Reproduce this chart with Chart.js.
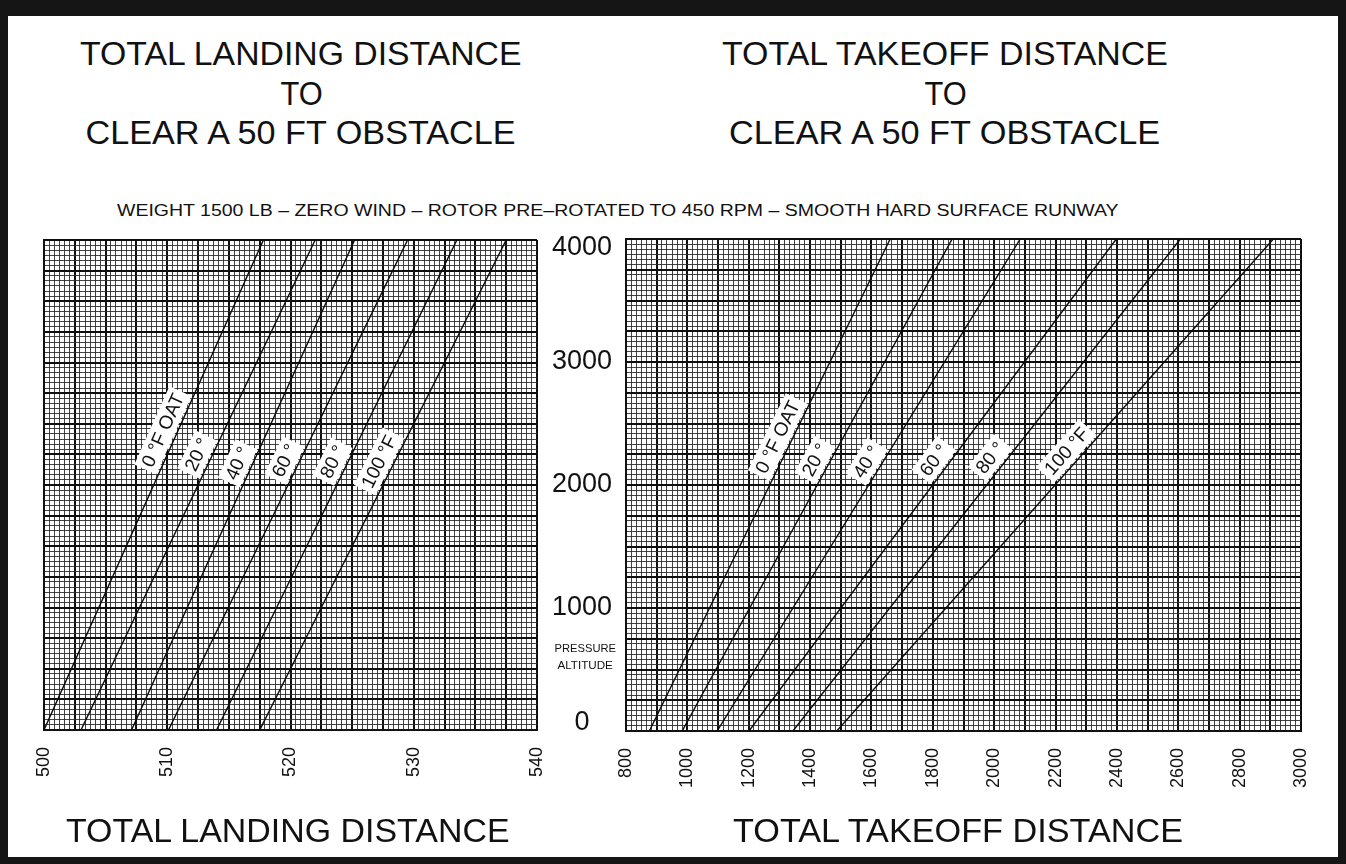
<!DOCTYPE html>
<html>
<head>
<meta charset="utf-8">
<title>Total landing / takeoff distance to clear a 50 ft obstacle</title>
<script src="https://cdn.jsdelivr.net/npm/chart.js@4.4.1/dist/chart.umd.min.js"></script>
<style>
  html, body { margin:0; padding:0; background:#151515; }
  #page { position:relative; width:1346px; height:864px; background:#151515; overflow:hidden;
          font-family:"Liberation Sans", Arial, Helvetica, sans-serif; color:#111; }
  #sheet { position:absolute; left:8px; top:16px; width:1330px; height:841px; background:#fff; }
  .txt { position:absolute; white-space:nowrap; transform-origin:center center; }
  canvas { position:absolute; }
</style>
</head>
<body>
<div id="page">
  <div id="sheet"></div>
  <canvas id="landing" width="530" height="600" style="left:24px;top:230px"></canvas>
  <canvas id="takeoff" width="780" height="600" style="left:540px;top:230px"></canvas>
</div>
<script>
// ---------------- data ----------------
const altitudeFt = [0, 4000];                         // pressure altitude end points of each line
const oatLabels = ['0 °F OAT', '20 °', '40 °', '60 °', '80 °', '100 °F'];
const landingAtSeaLevel = [500.0, 503.0, 507.1, 510.1, 514.0, 517.5];   // ft, at 0 ft altitude
const landingAt4000     = [517.8, 522.0, 525.2, 529.5, 533.5, 537.5];   // ft, at 4000 ft altitude
const takeoffAtSeaLevel = [876, 983, 1097, 1201, 1344, 1487];
const takeoffAt4000     = [1661, 1863, 2085, 2398, 2607, 2910];
const landingTickLabels = [500, 510, 520, 530, 540];
const takeoffTickLabels = [800, 1000, 1200, 1400, 1600, 1800, 2000, 2200, 2400, 2600, 2800, 3000];
const altitudeTickLabels = [0, 1000, 2000, 3000, 4000];

// ---------------- text ----------------
const page = document.getElementById('page');
function placeText(str, cx, cy, size, targetW, weight) {
  const d = document.createElement('div');
  d.className = 'txt';
  d.textContent = str;
  d.style.fontSize = size + 'px';
  d.style.lineHeight = size + 'px';
  if (weight) d.style.fontWeight = weight;
  page.appendChild(d);
  const w = d.offsetWidth, h = d.offsetHeight;
  d.style.left = (cx - w / 2) + 'px';
  d.style.top = (cy - h / 2) + 'px';
  if (targetW) d.style.transform = 'scaleX(' + (targetW / w).toFixed(4) + ')';
}
placeText('TOTAL LANDING DISTANCE', 301, 53, 33, 442);
placeText('TO', 301, 93, 33, 42);
placeText('CLEAR A 50 FT OBSTACLE', 300, 132, 33, 430);
placeText('TOTAL TAKEOFF DISTANCE', 945, 53, 33, 446);
placeText('TO', 945, 93, 33, 42);
placeText('CLEAR A 50 FT OBSTACLE', 944, 132, 33, 431);
placeText('WEIGHT 1500 LB – ZERO WIND  – ROTOR PRE–ROTATED TO 450 RPM – SMOOTH HARD SURFACE RUNWAY', 617, 211, 16, 1001);
placeText('TOTAL LANDING DISTANCE', 288, 830, 33, 444);
placeText('TOTAL TAKEOFF DISTANCE', 958, 830, 33, 450);
placeText('PRESSURE', 585, 648, 11, 62);
placeText('ALTITUDE', 585, 665, 11, 55);

// ---------------- chart helpers ----------------
const near = (v, step) => Math.abs(v / step - Math.round(v / step)) < 1e-6;
const HEAVY = '#0e0e0e', FINE = '#2e2e2e';
function gridFor(major) {
  return {
    drawTicks: false,
    color: c => (c.tick && near(c.tick.value, major)) ? HEAVY : FINE,
    lineWidth: c => (c.tick && near(c.tick.value, major)) ? 2 : 0.9
  };
}
function makeLines(lo, hi) {
  return oatLabels.map((lab, i) => ({
    label: lab,
    data: [{ x: lo[i], y: altitudeFt[0] }, { x: hi[i], y: altitudeFt[1] }],
    borderColor: '#0a0a0a',
    borderWidth: 1.4,
    pointRadius: 0,
    fill: false,
    tension: 0
  }));
}
const lineLabelPlugin = {
  id: 'oatLabels',
  afterDatasetsDraw(chart, args, opts) {
    const ctx = chart.ctx, ys = chart.scales.y;
    ctx.save();
    ctx.beginPath();
    ctx.rect(chart.chartArea.left, chart.chartArea.top, chart.chartArea.right - chart.chartArea.left, chart.chartArea.bottom - chart.chartArea.top);
    ctx.clip();
    chart.data.datasets.forEach((ds, i) => {
      const pts = chart.getDatasetMeta(i).data;
      const p0 = pts[0], p1 = pts[pts.length - 1];
      const py = ys.getPixelForValue(opts.alts[i]);
      const t = (py - p0.y) / (p1.y - p0.y);
      const px = p0.x + (p1.x - p0.x) * t;
      const ang = Math.atan2(p1.y - p0.y, p1.x - p0.x);
      ctx.save();
      ctx.translate(px, py);
      ctx.rotate(ang);
      ctx.translate(0, -opts.offset);
      ctx.font = opts.size + 'px "Liberation Sans", Arial, sans-serif';
      const w = ctx.measureText(ds.label).width;
      const h = opts.size + 5;
      ctx.fillStyle = '#ffffff';
      ctx.fillRect(-w / 2 - 4, -h / 2, w + 8, h);
      ctx.fillStyle = '#111';
      ctx.textAlign = 'center';
      ctx.textBaseline = 'middle';
      ctx.fillText(ds.label, 0, 1);
      ctx.restore();
    });
    ctx.restore();
  }
};
function xLabel(list) {
  return v => {
    const hit = list.find(l => Math.abs(l - v) < 1e-6);
    return hit === undefined ? '' : String(hit);
  };
}

// ---------------- landing chart ----------------
new Chart(document.getElementById('landing'), {
  type: 'line',
  data: { datasets: makeLines(landingAtSeaLevel, landingAt4000) },
  options: {
    responsive: false, animation: false, events: [],
    layout: { padding: { left: 20, right: 17, top: 10, bottom: 0 } },
    plugins: { legend: { display: false }, tooltip: { enabled: false },
      oatLabels: { alts: [2400, 2200, 2130, 2150, 2140, 2140], offset: 14, size: 19 } },
    scales: {
      x: {
        type: 'linear', min: 500, max: 540,
        grid: gridFor(2.5),
        border: { display: true, color: '#111', width: 2 },
        ticks: { stepSize: 2.5 / 6, autoSkip: false, minRotation: 90, maxRotation: 90, padding: 17,
                 color: '#111', font: { size: 18, family: '"Liberation Sans", Arial, sans-serif' },
                 callback: xLabel(landingTickLabels) },
        afterFit: s => { s.height = 100; s.paddingLeft = 0; s.paddingRight = 0; }
      },
      y: {
        type: 'linear', min: 0, max: 4000,
        grid: gridFor(250),
        border: { display: true, color: '#111', width: 2 },
        ticks: { stepSize: 250 / 6, display: false, autoSkip: false },
        afterFit: s => { s.width = 0; s.paddingTop = 0; s.paddingBottom = 0; }
      }
    }
  },
  plugins: [lineLabelPlugin]
});

// ---------------- takeoff chart ----------------
new Chart(document.getElementById('takeoff'), {
  type: 'line',
  data: { datasets: makeLines(takeoffAtSeaLevel, takeoffAt4000) },
  options: {
    responsive: false, animation: false, events: [],
    layout: { padding: { left: 0, right: 19, top: 9, bottom: 0 } },
    plugins: { legend: { display: false }, tooltip: { enabled: false },
      oatLabels: { alts: [2340, 2150, 2130, 2135, 2150, 2200], offset: 14, size: 19 } },
    scales: {
      x: {
        type: 'linear', min: 800, max: 3000,
        grid: gridFor(100),
        border: { display: true, color: '#111', width: 2 },
        ticks: { stepSize: 100 / 6, autoSkip: false, minRotation: 90, maxRotation: 90, padding: 17,
                 color: '#111', font: { size: 18, family: '"Liberation Sans", Arial, sans-serif' },
                 callback: xLabel(takeoffTickLabels) },
        afterFit: s => { s.height = 99; s.paddingLeft = 0; s.paddingRight = 0; }
      },
      y: {
        type: 'linear', position: 'left', min: 0, max: 4000,
        grid: gridFor(250),
        border: { display: true, color: '#111', width: 2 },
        ticks: { stepSize: 250 / 6, autoSkip: false, padding: 14, crossAlign: 'center',
                 color: '#111', font: { size: 27, lineHeight: 0.6, family: '"Liberation Sans", Arial, sans-serif' },
                 callback: v => {
                   const hit = altitudeTickLabels.find(l => Math.abs(l - v) < 1e-6);
                   if (hit === undefined) return '';
                   if (hit === 0) return ['0', ''];
                   if (hit === 4000) return ['', '4000'];
                   return String(hit);
                 } },
        afterFit: s => { s.width = 86; s.paddingTop = 0; s.paddingBottom = 0; }
      }
    }
  },
  plugins: [lineLabelPlugin]
});
</script>
</body>
</html>
